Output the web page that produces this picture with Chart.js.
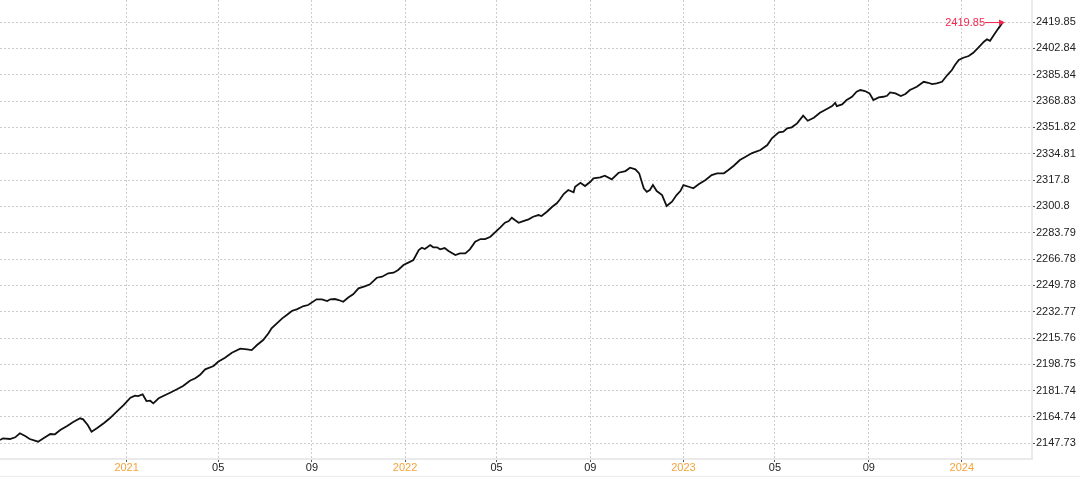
<!DOCTYPE html>
<html>
<head>
<meta charset="utf-8">
<script src="https://cdn.jsdelivr.net/npm/chart.js@4.4.1/dist/chart.umd.min.js"></script>
<style>
  html, body { margin: 0; padding: 0; background: #fff; }
  #wrap { position: relative; width: 1080px; height: 477px; }
</style>
</head>
<body>
<div id="wrap"><canvas id="c"></canvas></div>
<script>
const dates = [
"2020-07-19","2020-07-23","2020-08-01","2020-08-08","2020-08-14","2020-08-21","2020-08-27","2020-09-07","2020-09-14","2020-09-23",
"2020-09-29","2020-10-06","2020-10-15","2020-10-23","2020-11-01","2020-11-05","2020-11-11","2020-11-16","2020-11-23","2020-12-02",
"2020-12-10","2020-12-19","2020-12-28","2021-01-06","2021-01-12","2021-01-16","2021-01-22","2021-01-27","2021-02-01","2021-02-05",
"2021-02-12","2021-02-18","2021-02-27","2021-03-08","2021-03-16","2021-03-25","2021-04-01","2021-04-07","2021-04-14","2021-04-25",
"2021-05-01","2021-05-10","2021-05-19","2021-05-30","2021-06-08","2021-06-14","2021-06-21","2021-06-29","2021-07-06","2021-07-10",
"2021-07-17","2021-07-24","2021-07-30","2021-08-06","2021-08-12","2021-08-21","2021-08-27","2021-09-07","2021-09-14","2021-09-21",
"2021-09-25","2021-10-01","2021-10-06","2021-10-12","2021-10-19","2021-10-25","2021-11-01","2021-11-10","2021-11-16","2021-11-25",
"2021-12-02","2021-12-10","2021-12-17","2021-12-23","2021-12-30","2022-01-06","2022-01-12","2022-01-19","2022-01-23","2022-01-27",
"2022-02-03","2022-02-07","2022-02-12","2022-02-16","2022-02-22","2022-02-27","2022-03-08","2022-03-14","2022-03-21","2022-03-27",
"2022-04-03","2022-04-10","2022-04-16","2022-04-23","2022-04-29","2022-05-06","2022-05-12","2022-05-17","2022-05-21","2022-05-25",
"2022-05-30","2022-06-05","2022-06-12","2022-06-18","2022-06-25","2022-06-29","2022-07-06","2022-07-13","2022-07-19","2022-07-23",
"2022-07-28","2022-08-03","2022-08-10","2022-08-12","2022-08-19","2022-08-25","2022-09-01","2022-09-05","2022-09-14","2022-09-20",
"2022-09-29","2022-10-08","2022-10-17","2022-10-23","2022-10-30","2022-11-04","2022-11-10","2022-11-14","2022-11-18","2022-11-22",
"2022-11-27","2022-12-04","2022-12-10","2022-12-17","2022-12-23","2022-12-28","2023-01-01","2023-01-08","2023-01-14","2023-01-21",
"2023-01-30","2023-02-07","2023-02-14","2023-02-23","2023-03-01","2023-03-08","2023-03-16","2023-03-23","2023-04-01","2023-04-12",
"2023-04-21","2023-04-27","2023-05-06","2023-05-12","2023-05-17","2023-05-23","2023-05-30","2023-06-07","2023-06-13","2023-06-21",
"2023-06-29","2023-07-08","2023-07-15","2023-07-19","2023-07-21","2023-07-28","2023-08-03","2023-08-10","2023-08-16","2023-08-21",
"2023-08-27","2023-09-02","2023-09-07","2023-09-14","2023-09-20","2023-09-25","2023-09-29","2023-10-06","2023-10-13","2023-10-19",
"2023-10-25","2023-11-03","2023-11-12","2023-11-18","2023-11-23","2023-11-29","2023-12-06","2023-12-13","2023-12-19","2023-12-23",
"2023-12-28","2024-01-03","2024-01-10","2024-01-16","2024-01-23","2024-01-30","2024-02-03","2024-02-07","2024-02-12","2024-02-18",
"2024-02-24"
];
const values = [
2149.86,2150.96,2150.51,2151.61,2154.19,2152.45,2150.51,2148.77,2150.96,2153.74,
2153.55,2156.32,2158.91,2161.49,2163.88,2163.23,2159.55,2155.23,2157.42,2160.65,
2163.88,2168.14,2172.47,2177.18,2178.48,2178.28,2179.38,2175.05,2175.25,2173.57,
2176.80,2178.28,2180.41,2182.61,2184.74,2188.17,2189.72,2191.85,2195.53,2197.66,
2200.44,2203.02,2206.25,2208.84,2208.45,2207.99,2211.22,2214.45,2218.78,2222.01,
2225.24,2228.47,2230.60,2233.38,2234.28,2236.41,2237.06,2240.74,2240.74,2239.64,
2240.74,2240.94,2240.29,2239.19,2242.03,2243.97,2247.85,2249.33,2250.43,2254.69,
2255.34,2257.54,2257.92,2259.67,2262.90,2264.64,2266.13,2272.58,2274.07,2273.23,
2275.81,2274.33,2274.33,2273.04,2273.88,2271.94,2269.36,2270.45,2270.45,2273.04,
2277.95,2279.69,2279.69,2281.18,2284.02,2287.25,2290.22,2291.32,2293.45,2291.96,
2290.22,2291.32,2292.41,2294.09,2295.19,2294.55,2297.32,2300.55,2302.75,2305.20,
2308.76,2311.34,2309.85,2313.47,2316.05,2313.92,2316.70,2318.90,2319.54,2320.57,
2318.25,2322.51,2323.61,2325.74,2324.71,2322.12,2312.44,2310.24,2311.34,2314.57,
2310.69,2308.11,2301.00,2303.78,2308.11,2310.69,2314.57,2313.47,2312.44,2315.02,
2317.80,2321.03,2322.12,2322.12,2324.26,2327.03,2330.72,2332.65,2335.24,2337.17,
2340.40,2344.73,2348.61,2349.00,2351.19,2351.84,2354.42,2359.33,2356.10,2358.04,
2361.27,2363.66,2365.59,2367.73,2365.59,2366.69,2369.47,2371.60,2374.83,2375.93,
2375.28,2373.80,2369.47,2371.21,2371.60,2372.25,2374.44,2373.80,2372.05,2373.35,
2375.93,2378.06,2381.29,2380.64,2379.80,2380.26,2381.29,2385.62,2388.85,2392.08,
2395.31,2396.79,2397.89,2400.02,2403.51,2407.13,2408.68,2407.77,2411.45,2415.78,
2419.85
];
const xTickDates = ["2021-01-01","2021-05-01","2021-09-01","2022-01-01","2022-05-01","2022-09-01","2023-01-01","2023-05-01","2023-09-01","2024-01-01"];
const xTickLabels = ["2021","05","09","2022","05","09","2023","05","09","2024"];
const yTicks = [2147.73,2164.74,2181.74,2198.75,2215.76,2232.77,2249.78,2266.78,2283.79,2300.8,2317.8,2334.81,2351.82,2368.83,2385.84,2402.84,2419.85];
const yTickLabels = ["2147.73","2164.74","2181.74","2198.75","2215.76","2232.77","2249.78","2266.78","2283.79","2300.8","2317.8","2334.81","2351.82","2368.83","2385.84","2402.84","2419.85"];
const xRange = ["2020-07-19","2024-04-02"];
const yRange = [2137.6, 2434.1];
const lastLabel = "2419.85";

const points = dates.map((d, i) => ({ x: Date.parse(d), y: values[i] }));
const FONT = "'Liberation Sans', Arial, Helvetica, sans-serif";
const RED = '#f5294f';

const lastMarker = {
  id: 'lastMarker',
  afterDatasetsDraw(chart) {
    const meta = chart.getDatasetMeta(0);
    const pt = meta.data[meta.data.length - 1];
    const ctx = chart.ctx;
    const x = pt.x, y = pt.y;
    ctx.save();
    ctx.strokeStyle = RED;
    ctx.fillStyle = RED;
    ctx.lineWidth = 1;
    ctx.beginPath();
    ctx.moveTo(x - 18, y + 0.5);
    ctx.lineTo(x + 1, y + 0.5);
    ctx.stroke();
    ctx.beginPath();
    ctx.moveTo(x + 2, y + 0.5);
    ctx.lineTo(x - 4, y - 2.5);
    ctx.lineTo(x - 4, y + 3.5);
    ctx.closePath();
    ctx.fill();
    ctx.font = '11px ' + FONT;
    ctx.textAlign = 'right';
    ctx.textBaseline = 'middle';
    ctx.fillText(lastLabel, x - 18, y + 0.5);
    ctx.restore();
  },
  afterDraw(chart) {
    const ctx = chart.ctx;
    ctx.save();
    ctx.strokeStyle = '#ececec';
    ctx.lineWidth = 1;
    ctx.beginPath();
    ctx.moveTo(0, 476.5);
    ctx.lineTo(1080, 476.5);
    ctx.stroke();
    ctx.restore();
  }
};

new Chart(document.getElementById('c'), {
  type: 'line',
  data: {
    datasets: [{
      data: points,
      borderColor: '#111',
      borderWidth: 1.8,
      pointRadius: 0,
      tension: 0,
      fill: false
    }]
  },
  options: {
    responsive: true,
    maintainAspectRatio: false,
    animation: false,
    layout: { padding: 0 },
    plugins: { legend: { display: false }, tooltip: { enabled: false } },
    scales: {
      x: {
        type: 'linear',
        min: Date.parse(xRange[0]),
        max: Date.parse(xRange[1]),
        afterBuildTicks: (s) => { s.ticks = xTickDates.map(d => ({ value: Date.parse(d) })); },
        afterFit: (s) => { s.height = 18; s.paddingLeft = 0; s.paddingRight = 0; },
        grid: { color: '#cdcdcd', drawTicks: true, tickLength: 3, tickColor: '#555', tickBorderDash: [] },
        border: { display: true, color: '#eaeaea', width: 2, dash: [2, 2] },
        ticks: {
          autoSkip: false, maxRotation: 0, padding: -1,
          font: { size: 11, family: FONT },
          color: (c) => (xTickLabels[c.index] && xTickLabels[c.index].length === 4) ? '#f5a33b' : '#222',
          callback: (v, i) => xTickLabels[i]
        }
      },
      y: {
        type: 'linear',
        position: 'right',
        min: yRange[0],
        max: yRange[1],
        afterBuildTicks: (s) => { s.ticks = yTicks.map(v => ({ value: v })); },
        afterFit: (s) => { s.width = 48; s.paddingTop = 0; s.paddingBottom = 0; },
        grid: { color: '#cdcdcd', drawTicks: true, tickLength: 3, tickColor: '#555', tickBorderDash: [] },
        border: { display: true, color: '#eaeaea', width: 2, dash: [2, 2] },
        ticks: {
          autoSkip: false, padding: 1,
          font: { size: 11, family: FONT },
          color: '#222',
          callback: (v, i) => yTickLabels[i]
        }
      }
    }
  },
  plugins: [lastMarker]
});
</script>
</body>
</html>
